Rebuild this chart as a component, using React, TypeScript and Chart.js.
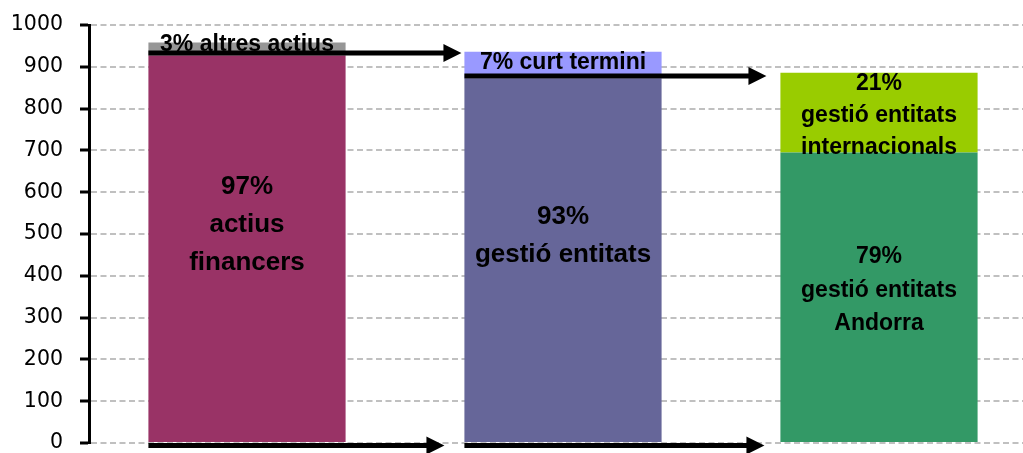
import React, { useEffect, useRef } from 'react';
import { Chart, registerables } from 'chart.js';

Chart.register(...registerables);

// ---- data ----
const categories = ['Actiu', 'Passiu', 'Gestió'];
const baseValues = [927, 872, 695];
const topValues = [31, 64, 191];
const baseLabels = [
  ['97%', 'actius', 'financers'],
  ['93%', 'gestió entitats'],
  ['79%', 'gestió entitats', 'Andorra'],
];
const topLabels = [
  ['3% altres actius'],
  ['7% curt termini'],
  ['21%', 'gestió entitats', 'internacionals'],
];
const yMin = 0;
const yMax = 1000;
const yStep = 100;

// ---- styles ----
const baseColors = ['#993366', '#666699', '#339966'];
const topColors = ['#969696', '#9999FF', '#99CC00'];
const baseFont = [26, 26, 23];
const baseLineGap = [38, 38, 33.5];
const baseAnchor = [0.563, 0.568, 0.524];
const topFont = [23, 23, 23];
const topLineGap = [30, 30, 32];
const topAnchor = [0.8, 0.58, 0.464];
const topArrowGap = [3, 14];
const bottomArrowGap = [20, 16];

const labelPlugin = {
  id: 'barLabelsArrows',
  afterDatasetsDraw(chart: any) {
    const ctx = chart.ctx;
    const m0 = chart.getDatasetMeta(0).data;
    const m1 = chart.getDatasetMeta(1).data;
    const yScale = chart.scales.y;
    ctx.save();
    ctx.fillStyle = '#000';
    ctx.textAlign = 'center';
    ctx.textBaseline = 'middle';
    const drawBlock = (lines: string[], cx: number, cy: number, size: number, gap: number) => {
      ctx.font = `bold ${size}px "Liberation Sans", Arial, sans-serif`;
      const start = cy - ((lines.length - 1) * gap) / 2;
      lines.forEach((t, k) => ctx.fillText(t, cx, start + k * gap));
    };
    for (let i = 0; i < categories.length; i++) {
      const b = m0[i];
      const t = m1[i];
      const cy0 = b.base + (b.y - b.base) * baseAnchor[i];
      drawBlock(baseLabels[i], b.x, cy0, baseFont[i], baseLineGap[i]);
      const cy1 = t.base + (t.y - t.base) * topAnchor[i];
      drawBlock(topLabels[i], t.x, cy1, topFont[i], topLineGap[i]);
    }
    // arrows
    const arrow = (x1: number, x2: number, y: number) => {
      const head = 18;
      const half = 9;
      ctx.strokeStyle = '#000';
      ctx.lineWidth = 5;
      ctx.beginPath();
      ctx.moveTo(x1, y);
      ctx.lineTo(x2 - head + 1, y);
      ctx.stroke();
      ctx.beginPath();
      ctx.moveTo(x2, y);
      ctx.lineTo(x2 - head, y - half);
      ctx.lineTo(x2 - head, y + half);
      ctx.closePath();
      ctx.fillStyle = '#000';
      ctx.fill();
    };
    const zeroY = yScale.getPixelForValue(0);
    for (let i = 0; i < categories.length - 1; i++) {
      const b = m0[i];
      const n = m0[i + 1];
      const left = b.x - b.width / 2;
      const nextLeft = n.x - n.width / 2;
      arrow(left, nextLeft - topArrowGap[i], b.y - 2.5);
      arrow(left, nextLeft - bottomArrowGap[i], zeroY + 2.5);
    }
    ctx.restore();
  },
};

export default function App() {
  const ref = useRef<HTMLCanvasElement>(null);
  useEffect(() => {
    if (!ref.current) return;
    const chart = new Chart(ref.current, {
      type: 'bar',
      data: {
        labels: categories,
        datasets: [
          {
            data: baseValues,
            backgroundColor: baseColors,
            borderWidth: 0,
            barPercentage: 0.624,
            categoryPercentage: 1,
          },
          {
            data: topValues,
            backgroundColor: topColors,
            borderWidth: 0,
            barPercentage: 0.624,
            categoryPercentage: 1,
          },
        ],
      },
      options: {
        animation: false,
        responsive: false,
        maintainAspectRatio: false,
        layout: { padding: { top: 25, bottom: 10, left: 0, right: 0 } },
        plugins: { legend: { display: false }, tooltip: { enabled: false } },
        scales: {
          x: { stacked: true, display: false, offset: true },
          y: {
            stacked: true,
            min: yMin,
            max: yMax,
            ticks: {
              stepSize: yStep,
              color: '#000',
              padding: 17,
              font: { family: '"DejaVu Sans", sans-serif', size: 20.5, lineHeight: 1 },
              callback: (v: any) => String(v),
            },
            grid: {
              color: '#c0c0c0',
              lineWidth: 2,
              tickColor: '#000',
              tickWidth: 3,
              tickLength: 9,
              drawTicks: true,
            },
            border: { display: true, color: '#000', width: 3, dash: [6, 3.5] },
            afterFit: (s: any) => {
              s.width = 89;
              s.paddingTop = 0;
              s.paddingBottom = 0;
            },
          },
        },
      },
      plugins: [labelPlugin],
    });
    return () => chart.destroy();
  }, []);
  return (
    <div style={{ position: 'fixed', left: 0, top: 0, width: 1023, height: 453, overflow: 'hidden', background: '#fff' }}>
      <canvas ref={ref} width={1037} height={453} style={{ width: 1037, height: 453, display: 'block' }} />
    </div>
  );
}
